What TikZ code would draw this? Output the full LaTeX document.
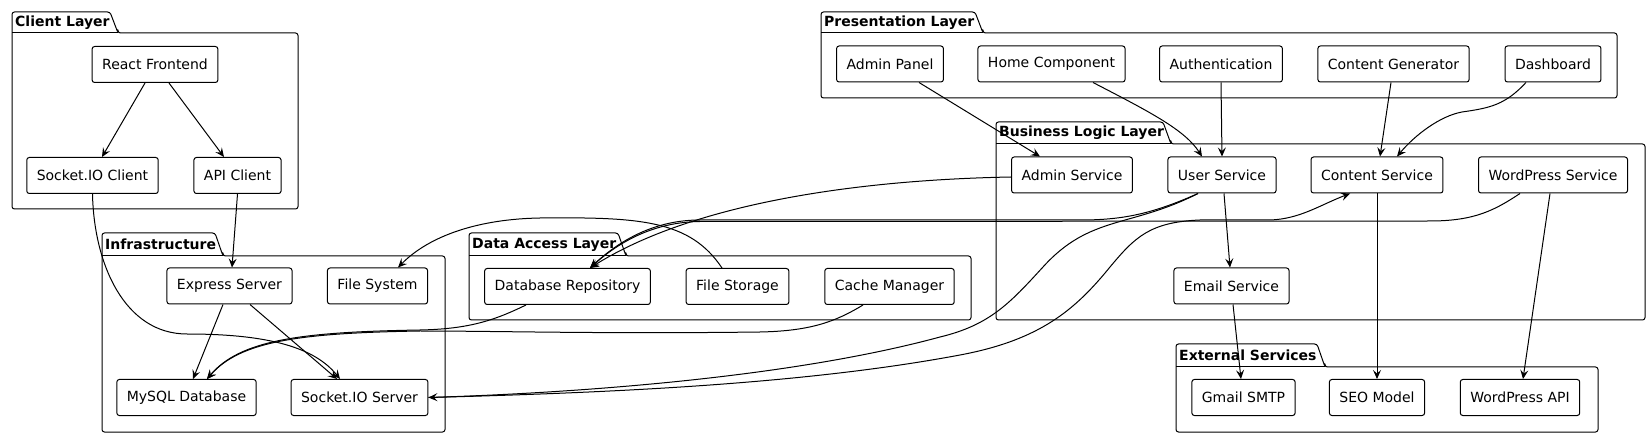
\documentclass[tikz,border=0pt]{standalone}
\usepackage{fontspec}
\setmainfont{DejaVu Sans}
\usetikzlibrary{arrows.meta}
\newcommand{\umlpackage}[8]{%
  \draw[pkgline] (#2,#4) -- (#5,#4) -- (#5,#6) -- (#1,#6) -- (#1,#3) -- ({#2-8},#3) -- (#2,#4) -- cycle;
  \draw[pkgline] (#1,#4) -- (#2,#4);
  \node[pkgtitle] (#8) at ({#1+3},{(#3+#4)/2}) {#7};
}
\tikzset{
  comp/.style={draw, line width=1pt, rounded corners=2.5pt, fill=white, minimum height=36pt, inner xsep=10pt, font=\fontsize{14pt}{16pt}\selectfont},
  pkgline/.style={line width=1pt, rounded corners=2.5pt},
  pkgtitle/.style={anchor=west, inner sep=0pt, font=\bfseries\fontsize{14pt}{16pt}\selectfont},
  conn/.style={line width=1pt, -{Stealth[length=9pt,width=8pt,inset=3.5pt]}},
}
\begin{document}
\begin{tikzpicture}[x=1pt,y=-1pt]
\useasboundingbox[fill=white] (0,0) rectangle (1650,438);
% packages
\umlpackage{12}{118}{12}{33}{298}{209}{Client Layer}{pclient}
\umlpackage{821}{983}{12}{33}{1617}{98}{Presentation Layer}{ppres}
\umlpackage{996}{1171}{122}{144}{1645}{320}{Business Logic Layer}{pbll}
\umlpackage{102}{223}{233}{256}{445}{432}{Infrastructure}{pinfra}
\umlpackage{469}{626}{233}{256}{971}{320}{Data Access Layer}{pdal}
\umlpackage{1176}{1325}{344}{367}{1598}{432}{External Services}{pext}
% client
\node[comp] (rf) at (155,64.5) {React Frontend};
\node[comp] (sc) at (92.5,175.5) {Socket.IO Client};
\node[comp] (ac) at (237.5,175.5) {API Client};
% infrastructure
\node[comp] (es) at (229.5,286) {Express Server};
\node[comp] (fs) at (377.5,286) {File System};
\node[comp] (my) at (186.5,397.5) {MySQL Database};
\node[comp] (sio) at (359.5,397.5) {Socket.IO Server};
% data access
\node[comp] (dbr) at (567.5,286.5) {Database Repository};
\node[comp] (fst) at (737.5,286.5) {File Storage};
\node[comp] (cm) at (889.5,286.5) {Cache Manager};
% presentation
\node[comp] (ap) at (890,64) {Admin Panel};
\node[comp] (hc) at (1051.5,64) {Home Component};
\node[comp] (au) at (1221,64) {Authentication};
\node[comp] (cg) at (1393.5,64) {Content Generator};
\node[comp] (db) at (1553,64) {Dashboard};
% business logic
\node[comp] (as) at (1072,175) {Admin Service};
\node[comp] (us) at (1222,175) {User Service};
\node[comp] (cs) at (1377,175) {Content Service};
\node[comp] (wps) at (1553,175) {WordPress Service};
\node[comp] (em) at (1231.5,286) {Email Service};
% external
\node[comp] (gm) at (1243.5,397.5) {Gmail SMTP};
\node[comp] (seo) at (1377,397.5) {SEO Model};
\node[comp] (wpa) at (1520,397.5) {WordPress API};
% connectors: client / infrastructure
\draw[conn] ([xshift=-10pt]rf.south) -- ([xshift=9.5pt]sc.north);
\draw[conn] ([xshift=14pt]rf.south) -- ([xshift=-13.5pt]ac.north);
\draw[conn] (ac.south) -- ([xshift=2.5pt]es.north);
\draw[conn] (sc.south) .. controls (94,265) and (125,334) .. (187,334) .. controls (270,334) and (315,348) .. ([xshift=-19.5pt]sio.north);
\draw[conn] ([xshift=-6.5pt]es.south) -- ([xshift=6.5pt]my.north);
\draw[conn] ([xshift=20.5pt]es.south) -- ([xshift=-22.5pt]sio.north);
% presentation -> business
\draw[conn] ([xshift=29pt]ap.south) -- ([xshift=-32pt]as.north);
\draw[conn] ([xshift=41.5pt]hc.south) .. controls (1150,112) and (1185,130) .. ([xshift=-20pt]us.north);
\draw[conn] (au.south) -- (us.north);
\draw[conn] ([xshift=-2.5pt]cg.south) -- ([xshift=3pt]cs.north);
\draw[conn] ([xshift=-27pt]db.south) .. controls (1505,105) and (1490,108) .. (1462,112) .. controls (1440,116) and (1415,135) .. ([xshift=20pt]cs.north);
% business internal / external
\draw[conn] ([xshift=2pt]us.south) -- ([xshift=-1.5pt]em.north);
\draw[conn] ([xshift=1.5pt]em.south) -- ([xshift=-2.5pt]gm.north);
\draw[conn] (cs.south) -- (seo.north);
\draw[conn] ([xshift=-3pt]wps.south) -- ([xshift=3pt]wpa.north);
% business -> data access
\draw[conn] ([yshift=-2pt]as.west) .. controls (850,180) and (690,205) .. ([xshift=22.5pt]dbr.north);
\draw[conn] ([xshift=-24pt]us.south) .. controls (1150,215) and (1120,220) .. (1080,220) -- (700,220) .. controls (655,220) and (620,240) .. ([xshift=22.5pt]dbr.north);
\draw[conn] ([xshift=-33pt]wps.south) .. controls (1495,210) and (1475,221) .. (1430,221) -- (700,221.5) .. controls (655,222) and (620,241) .. ([xshift=22.5pt]dbr.north);
% business <-> socket server
\draw[conn] ([xshift=-24pt]us.south) .. controls (1130,228) and (1090,215) .. (1043,267) .. controls (1010,303) and (990,325) .. (940,337) .. controls (800,375) and (600,392) .. (sio.east);
\draw[conn] (sio.east) .. controls (600,393) and (800,385) .. (960,355) .. controls (1040,340) and (1075,310) .. (1110,267) .. controls (1135,237) and (1150,222) .. (1200,220) -- (1270,220) .. controls (1300,219) and (1320,205) .. ([xshift=-27pt]cs.south);
% data access -> infrastructure
\draw[conn] ([xshift=-15.5pt]fst.north) .. controls (690,220) and (640,217) .. (540,218) .. controls (480,219) and (430,235) .. ([xshift=20.5pt]fs.north);
\draw[conn] ([xshift=-41.5pt]dbr.south) .. controls (495,320) and (470,329) .. (420,330) .. controls (300,332) and (240,340) .. ([xshift=20.5pt]my.north);
\draw[conn] ([xshift=-26.5pt]cm.south) .. controls (835,322) and (810,331) .. (760,332) .. controls (600,334) and (500,331) .. (420,331) .. controls (300,333) and (240,341) .. ([xshift=20.5pt]my.north);
\end{tikzpicture}
\end{document}
